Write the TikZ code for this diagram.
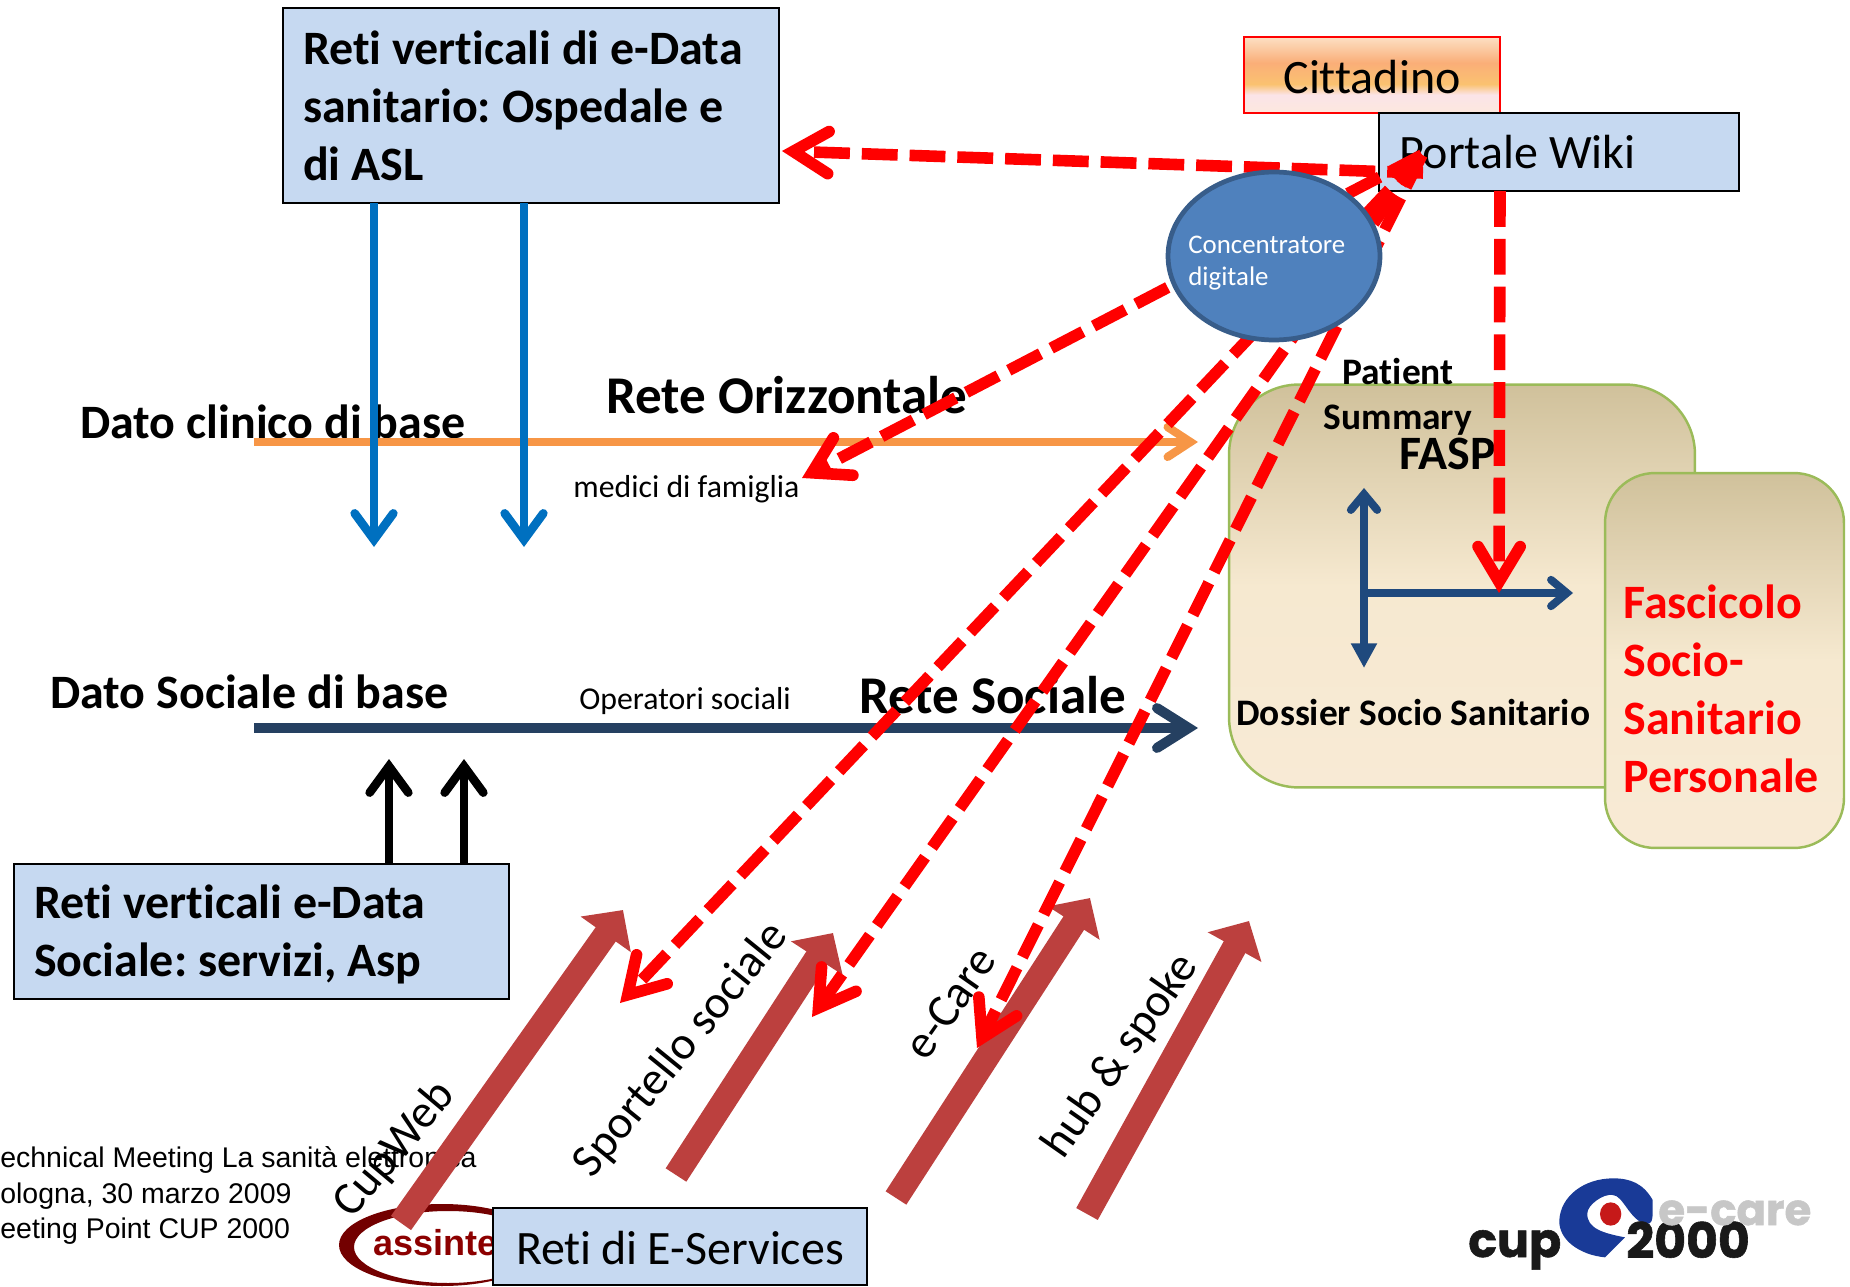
\documentclass[tikz,border=0pt]{standalone}
\usepackage{fontspec}
\setmainfont[Ligatures=NoCommon]{Carlito}
\newfontfamily\arialfont{Liberation Sans}
\newfontfamily\logofont[BoldFeatures={FakeBold=1.2}]{Poppins}
\frenchspacing
\usetikzlibrary{arrows.meta,shapes.geometric,positioning}
\definecolor{boxblue}{HTML}{C6D9F1}
\definecolor{ellblue}{HTML}{4F81BD}
\definecolor{elledge}{HTML}{385D8A}
\definecolor{navy}{HTML}{1F497D}
\definecolor{darkline}{HTML}{254061}
\definecolor{wine}{HTML}{BC403E}
\definecolor{boxgreen}{HTML}{9BBB59}
\definecolor{skyline}{HTML}{0070C0}
\definecolor{orangeline}{HTML}{F79646}
\definecolor{faspa}{HTML}{F8EAD5}
\definecolor{faspb}{HTML}{F6E9D0}
\definecolor{faspc}{HTML}{D0C19B}
\definecolor{cita}{HTML}{FCE8DE}
\definecolor{citb}{HTML}{FBE4E8}
\definecolor{citc}{HTML}{FAC270}
\definecolor{citd}{HTML}{FAAE78}
\definecolor{cite}{HTML}{FCE0C4}
\pgfdeclareverticalshading{faspshade}{100bp}{
	color(0bp)=(faspa);
	color(25bp)=(faspa);
	color(50bp)=(faspb);
	color(75bp)=(faspc);
	color(100bp)=(faspc)}
\pgfdeclareverticalshading{citshade}{100bp}{
	color(0bp)=(cita);
	color(25bp)=(cita);
	color(37bp)=(citb);
	color(44bp)=(citc);
	color(58bp)=(citd);
	color(75bp)=(cite);
	color(100bp)=(cite)}
\tikzset{
	netbox/.style={draw=black,fill=boxblue,line width=1.5pt,inner xsep=.4cm,inner ysep=0pt,align=flush left,anchor=center},
	bigtxt/.style={font=\fontsize{27.3}{33}\selectfont},
	boldtxt/.style={font=\fontsize{27.3}{33}\selectfont\bfseries},
	hugetxt/.style={font=\fontsize{30.2}{36}\selectfont\bfseries},
	midtxt/.style={font=\fontsize{21.3}{25.5}\selectfont\bfseries,align=flush center,inner sep=0pt},
	smalltxt/.style={font=\fontsize{18.1}{22}\selectfont,inner sep=0pt},
	foot/.style={font=\fontsize{16.2}{20}\arialfont,anchor=west,inner sep=0pt},
	roundbox/.style={draw=boxgreen,line width=1.4pt,rounded corners=1.4cm,shading=faspshade},
	dashred/.style={draw=red,line width=6.6pt,dash pattern=on 20.4pt off 6.8pt},
	redtip/.style={-{Straight Barb[length=20pt,width=24pt,line cap=round,line join=miter,line width=6.6pt]}},
	skyarrow/.style={draw=#1,line width=4.9pt,-{Straight Barb[length=15pt,width=22pt,line cap=round,line join=miter,line width=4.9pt]}},
	axisarrow/.style={draw=navy,line width=4.5pt,-{Straight Barb[length=9pt,width=15pt,line cap=round,line join=miter,line width=4.5pt]}},
	winearrow/.style={draw=wine,line width=14pt,-{Triangle[length=17pt,width=34pt]}},
	rottxt/.style={font=\fontsize{26.6}{30}\selectfont,inner sep=0pt}
}
\begin{document}
\begin{tikzpicture}[x=.02cm,y=-.02cm]
	\useasboundingbox (0,0) rectangle (1850,1287);

	% footer and logos
	\node[foot] (F1) at (0,1160) {echnical Meeting La sanità elettronica};
	\node[foot] (F2) at (0,1196) {ologna, 30 marzo 2009};
	\node[foot] (F3) at (0,1231) {eeting Point CUP 2000};

	\fill[red!45!black,even odd rule] (442,1245) ellipse [x radius=103,y radius=41] (448,1247) ellipse [x radius=94,y radius=36];
	\node[font=\fontsize{20.5}{24}\arialfont\bfseries,text=red!55!black,anchor=base west,inner sep=0pt] (AS) at (373,1255) {assinter};

	\begin{scope}[shift={(1430,1150)},scale=.3333]
		\fill[navy!80!blue] (668,150) .. controls (640,100) and (600,85) .. (550,85)
			.. controls (460,85) and (392,140) .. (388,210)
			.. controls (385,270) and (450,315) .. (525,322)
			-- (585,262) .. controls (520,250) and (470,235) .. (472,190)
			.. controls (472,165) and (520,130) .. (548,135)
			.. controls (580,135) and (600,215) .. (650,222)
			.. controls (665,222) and (668,210) .. (668,190) -- cycle;
		\fill[red!75!black!90!white] (542,192) ellipse [x radius=32,y radius=35];
	\end{scope}
	\node[font=\fontsize{27}{30}\logofont\bfseries,text=black!90,anchor=base west,inner sep=0pt] (LC) at (1468,1257) {cup};
	\node[font=\fontsize{27.8}{30}\logofont\bfseries,text=black!90,anchor=base west,inner sep=0pt] (L2) at (1626,1258) {2000};
	\node[font=\fontsize{24.7}{30}\logofont\bfseries,text=black!22,anchor=base west,inner sep=0pt] (LE) at (1658,1225) {e-care};

	% shapes
	\node[roundbox,minimum width=9.32cm,minimum height=8.06cm] (FASP) at (1462,586) {};
	\node[roundbox,minimum width=4.78cm,minimum height=7.5cm,rounded corners=1cm] (FSP) at (1724.5,660.5) {};

	\node[netbox,shading=citshade,draw=red,text width=5.12cm,align=flush center,inner xsep=0pt,minimum height=1.52cm,bigtxt,text height=21pt] (CIT) at (1372,75) {Cittadino};
	\node[netbox,text width=6.4cm,minimum height=1.56cm,bigtxt] (PW) at (1559,152) {Portale Wiki};

	\node[netbox,text width=9.12cm,minimum height=3.9cm,boldtxt] (RV) at (531,105.5) {Reti verticali di e-Data\\sanitario: Ospedale e\\di ASL};
	\node[netbox,text width=9.1cm,minimum height=2.7cm,boldtxt,text depth=34pt] (RS) at (261.5,931.5) {Reti verticali e-Data\\Sociale: servizi, Asp};

	% labels
	\node[boldtxt,inner sep=0pt,anchor=west] (DC) at (80,422) {Dato clinico di base};
	\node[boldtxt,inner sep=0pt,anchor=west] (DS) at (50,692) {Dato Sociale di base};
	\node[hugetxt,inner sep=0pt,anchor=west] (RO) at (606,395) {Rete Orizzontale};
	\node[hugetxt,inner sep=0pt,anchor=west] (RSO) at (859,695) {Rete Sociale};
	\node[smalltxt,anchor=west] (MF) at (573,489) {medici di famiglia};
	\node[smalltxt,anchor=west] (OS) at (579,701) {Operatori sociali};
	\node[midtxt] (PS) at (1398,397) {Patient\\Summary};
	\node[boldtxt,inner sep=0pt,anchor=west] (FA) at (1399,454) {FASP};
	\node[midtxt,anchor=west] (DSS) at (1236,713) {Dossier Socio Sanitario};
	\node[boldtxt,text=red,inner sep=0pt,anchor=west,align=flush left] (FS) at (1623,689) {Fascicolo\\Socio-\\Sanitario\\Personale};

	% horizontal nets
	\coordinate (OA) at (254,442);
	\coordinate (OB) at (1198,442);
	\coordinate (DA) at (254,728);
	\coordinate (DB) at (1198,728);
	\draw[orangeline,line width=4.7pt,-{Straight Barb[length=13pt,width=17pt,line cap=round,line join=miter,line width=4.7pt]}] (OA) -- (OB);
	\draw[darkline,line width=5.7pt,-{Straight Barb[length=18pt,width=22.7pt,line cap=round,line join=miter,line width=5.7pt]}] (DA) -- (DB);

	% vertical nets
	\coordinate (B1) at (374,203);
	\coordinate (B1e) at (374,547);
	\coordinate (B2) at (524,203);
	\coordinate (B2e) at (524,547);
	\draw[skyarrow=skyline] (B1) -- (B1e);
	\draw[skyarrow=skyline] (B2) -- (B2e);
	\coordinate (K1) at (389,864);
	\coordinate (K1e) at (389,759);
	\coordinate (K2) at (464,864);
	\coordinate (K2e) at (464,759);
	\draw[skyarrow=black] (K1) -- (K1e);
	\draw[skyarrow=black] (K2) -- (K2e);

	% fasp axes
	\coordinate (AX) at (1364,593);
	\coordinate (AT) at (1364,488);
	\coordinate (AB) at (1364,668);
	\coordinate (AR) at (1573,593);
	\draw[axisarrow] (AX) -- (AT);
	\draw[navy,line width=4.5pt,-{Triangle[length=14pt,width=14pt]}] (AX) -- (AB);
	\draw[axisarrow] (AX) -- (AR);

	% e-services arrows
	\coordinate (W1) at (401,1223);
	\coordinate (W1e) at (623,910);
	\coordinate (W2) at (676,1175);
	\coordinate (W2e) at (833,933);
	\coordinate (W3) at (896,1198);
	\coordinate (W3e) at (1090,898);
	\coordinate (W4) at (1087,1214);
	\coordinate (W4e) at (1249,921);
	\draw[winearrow] (W1) -- (W1e);
	\draw[winearrow] (W2) -- (W2e);
	\draw[winearrow] (W3) -- (W3e);
	\draw[winearrow] (W4) -- (W4e);

	\node[rottxt,rotate=50] (CW) at (395,1150) {CupWeb};
	\node[rottxt,rotate=51] (SS) at (681,1050) {Sportello sociale};
	\node[rottxt,rotate=55] (EC) at (950,1003) {e-Care};
	\node[rottxt,rotate=55] (HS) at (1121,1056) {hub \& spoke};

	% red flows
	\coordinate (PL) at (1423,173);
	\coordinate (RVe) at (782,151);
	\coordinate (PC) at (1422,155);
	\coordinate (PD) at (1500,191);
	\coordinate (PDe) at (1499,593);
	\coordinate (MFe) at (802,478);
	\coordinate (R1) at (620,1003);
	\coordinate (R2) at (812,1017);
	\coordinate (R3) at (977,1048);
	\draw[dashred,redtip] (PL) -- (RVe);
	\draw[dashred,redtip] (PD) -- (PDe);
	\draw[dashred,redtip] (PC) -- (MFe);
	\draw[dashred,redtip] (PC) -- (R1);
	\draw[dashred,redtip] (PC) -- (R2);
	\draw[dashred,redtip] (PC) -- (R3);

	\node[ellipse,draw=elledge,fill=ellblue,line width=2.7pt,minimum width=4.24cm,minimum height=3.36cm] (CD) at (1274,256) {};
	\node[font=\fontsize{15.3}{18}\selectfont,text=white,align=flush left,inner sep=0pt,anchor=west] (CDT) at (1188,263) {Concentratore\\digitale};

	\node[netbox,text width=6.56cm,inner xsep=.46cm,minimum height=1.54cm,bigtxt,text height=21pt] (ES) at (680,1246.5) {Reti di E-Services};
\end{tikzpicture}
\end{document}
